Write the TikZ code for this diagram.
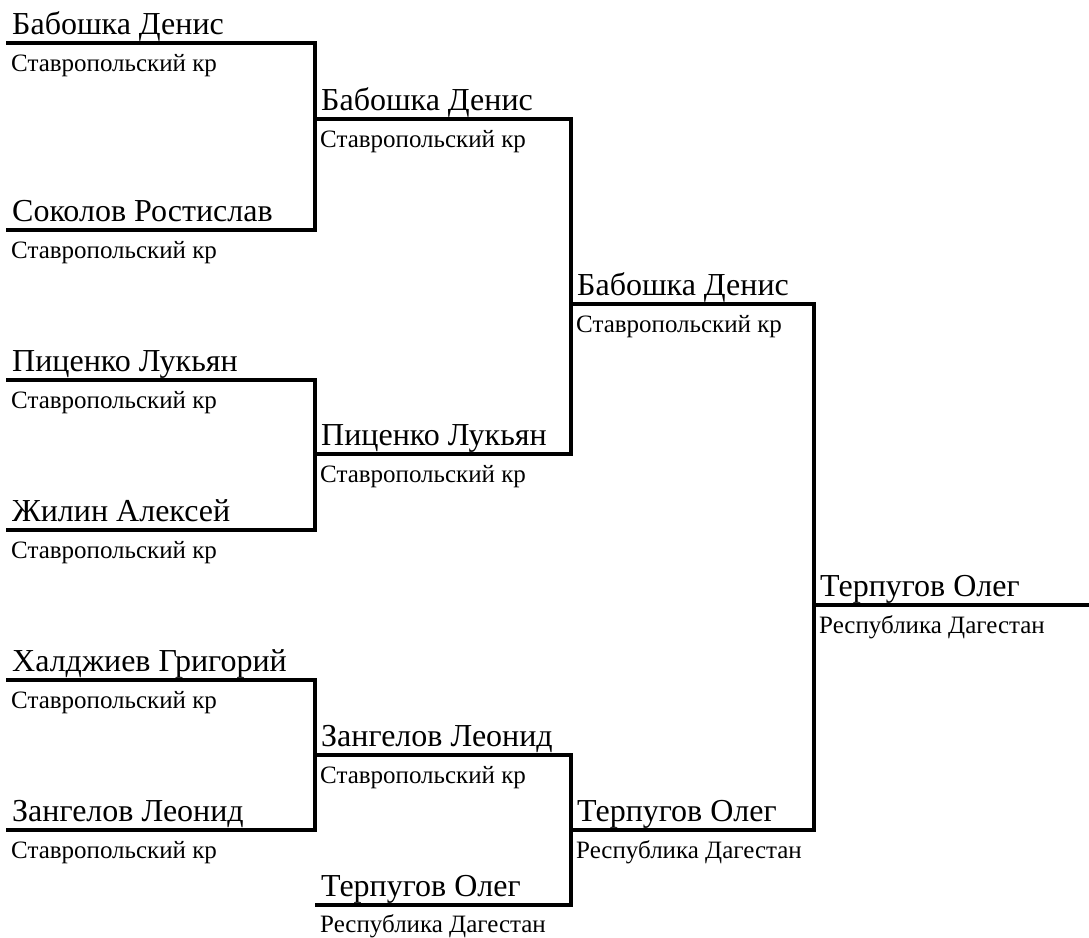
\documentclass[tikz,border=0pt]{standalone}
\usepackage{fontspec}
\setmainfont{Liberation Serif}
\usepackage{tikz}

\begin{document}
\begin{tikzpicture}
[ x=1pt, y=-1pt,
		player/.style={anchor=base west,inner sep=0pt,font=\fontsize{32}{32}\selectfont},
		region/.style={anchor=base west,inner sep=0pt,font=\fontsize{25}{25}\selectfont},
		bracket/.style={line width=4.5pt}]

	\useasboundingbox (0,0) rectangle (1089,937);

	% line starts of each round
	\coordinate (first a) at (6,43);
	\coordinate (first b) at (6,230);
	\coordinate (first c) at (6,380);
	\coordinate (first d) at (6,530);
	\coordinate (first e) at (6,680);
	\coordinate (first f) at (6,830);
	\coordinate (second a) at (315,119);
	\coordinate (second b) at (315,454);
	\coordinate (second c) at (315,755);
	\coordinate (second d) at (315,905);
	\coordinate (third a) at (571,304);
	\coordinate (third b) at (571,830);
	\coordinate (final) at (814,605);
	\coordinate (final end) at (1089,605);

	\node[player] (first a name) at ([shift={(6,-9)}]first a) {Бабошка Денис};
	\node[region] (first a region) at ([shift={(5,28)}]first a) {Ставропольский кр};
	\node[player] (first b name) at ([shift={(6,-9)}]first b) {Соколов Ростислав};
	\node[region] (first b region) at ([shift={(5,28)}]first b) {Ставропольский кр};
	\node[player] (first c name) at ([shift={(6,-9)}]first c) {Пиценко Лукьян};
	\node[region] (first c region) at ([shift={(5,28)}]first c) {Ставропольский кр};
	\node[player] (first d name) at ([shift={(6,-9)}]first d) {Жилин Алексей};
	\node[region] (first d region) at ([shift={(5,28)}]first d) {Ставропольский кр};
	\node[player] (first e name) at ([shift={(6,-9)}]first e) {Халджиев Григорий};
	\node[region] (first e region) at ([shift={(5,28)}]first e) {Ставропольский кр};
	\node[player] (first f name) at ([shift={(6,-9)}]first f) {Зангелов Леонид};
	\node[region] (first f region) at ([shift={(5,28)}]first f) {Ставропольский кр};

	\node[player] (second a name) at ([shift={(6,-9)}]second a) {Бабошка Денис};
	\node[region] (second a region) at ([shift={(5,28)}]second a) {Ставропольский кр};
	\node[player] (second b name) at ([shift={(6,-9)}]second b) {Пиценко Лукьян};
	\node[region] (second b region) at ([shift={(5,28)}]second b) {Ставропольский кр};
	\node[player] (second c name) at ([shift={(6,-9)}]second c) {Зангелов Леонид};
	\node[region] (second c region) at ([shift={(5,28)}]second c) {Ставропольский кр};
	\node[player] (second d name) at ([shift={(6,-9)}]second d) {Терпугов Олег};
	\node[region] (second d region) at ([shift={(5,27)}]second d) {Республика Дагестан};

	\node[player] (third a name) at ([shift={(6,-9)}]third a) {Бабошка Денис};
	\node[region] (third a region) at ([shift={(5,28)}]third a) {Ставропольский кр};
	\node[player] (third b name) at ([shift={(6,-9)}]third b) {Терпугов Олег};
	\node[region] (third b region) at ([shift={(5,28)}]third b) {Республика Дагестан};

	\node[player] (final name) at ([shift={(6,-9)}]final) {Терпугов Олег};
	\node[region] (final region) at ([shift={(5,28)}]final) {Республика Дагестан};

	\draw[bracket] (first a) -| (second a) |- (first b);
	\draw[bracket] (first c) -| (second b) |- (first d);
	\draw[bracket] (first e) -| (second c) |- (first f);
	\draw[bracket] (second a) -| (third a) |- (second b);
	\draw[bracket] (second c) -| (third b) |- (second d);
	\draw[bracket] (third a) -| (final) |- (third b);
	\draw[bracket] (final) -- (final end);
\end{tikzpicture}
\end{document}
